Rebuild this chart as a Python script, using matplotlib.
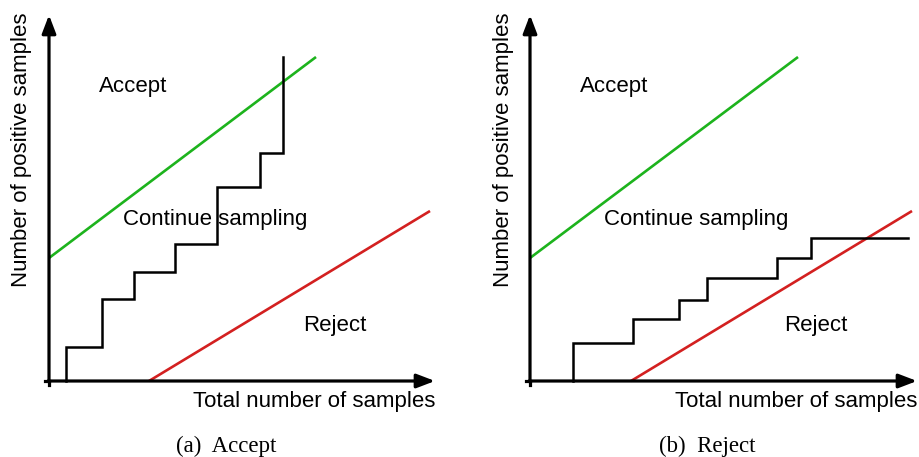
import matplotlib.pyplot as plt

# panel (a): accept case
acc_green_x = [0, 267]
acc_green_y = [123, 324]
acc_red_x = [100, 381]
acc_red_y = [0, 170]
acc_step_x = [17, 17, 53, 53, 85, 85, 126, 126, 168, 168, 211, 211, 234, 234]
acc_step_y = [0, 34, 34, 82, 82, 109, 109, 137, 137, 194, 194, 228, 228, 324]

# panel (b): reject case
rej_green_x = [0, 268]
rej_green_y = [123, 324]
rej_red_x = [101, 382]
rej_red_y = [0, 170]
rej_step_x = [43, 43, 103, 103, 149, 149, 177, 177, 247, 247, 281, 281, 378]
rej_step_y = [0, 38, 38, 62, 62, 81, 81, 103, 103, 123, 123, 143, 143]

captions = ['(a)  Accept', '(b)  Reject']

GREEN = '#1db31d'
RED = '#d32020'
SANS = 'Liberation Sans'
SERIF = 'Liberation Serif'

W, H = 920, 457
fig = plt.figure(figsize=(W / 100, H / 100), dpi=100)


def draw_panel(ox, x_end, gx, gy, rx, ry, sx, sy, caption):
    # axes placed so that one data unit is one pixel, origin at (ox, 381)
    x0, x1, y0, y1 = -8, x_end + 4, -8, 370
    ax = fig.add_axes([(ox + x0) / W, (H - 381 + y0) / H,
                       (x1 - x0) / W, (y1 - y0) / H])
    ax.set_xlim(x0, x1)
    ax.set_ylim(y0, y1)
    ax.axis('off')

    ax.plot(gx, gy, color=GREEN, lw=1.9, solid_capstyle='butt')
    ax.plot(rx, ry, color=RED, lw=1.9, solid_capstyle='butt')
    ax.plot(sx, sy, color='black', lw=1.8, solid_joinstyle='miter')

    # axes with arrow heads
    ax.plot([-4, 0], [0, 0], color='black', lw=2.3)
    ax.plot([0, 0], [-4, 0], color='black', lw=2.3)
    style = '-|>,head_length=1.1,head_width=0.42'
    ax.annotate('', xy=(x_end, 0), xytext=(-1, 0),
                arrowprops=dict(arrowstyle=style, lw=2.3, color='black',
                                shrinkA=0, shrinkB=0))
    ax.annotate('', xy=(0, 366), xytext=(0, -1),
                arrowprops=dict(arrowstyle=style, lw=2.3, color='black',
                                shrinkA=0, shrinkB=0))

    fs = 16
    ax.text(84, 295, 'Accept', family=SANS, fontsize=fs, ha='center', va='center')
    ax.text(166, 162, 'Continue sampling', family=SANS, fontsize=fs,
            ha='center', va='center')
    ax.text(286, 55, 'Reject', family=SANS, fontsize=fs, ha='center', va='center')
    ax.text(x_end, -20, 'Total number of samples', family=SANS, fontsize=fs,
            ha='right', va='center')
    ax.text(-27, 231, 'Number of positive samples', family=SANS, fontsize=fs,
            ha='center', va='center', rotation=90)
    ax.text(177, -65, caption, family=SERIF, fontsize=16.5, ha='center', va='center')


draw_panel(49, 386, acc_green_x, acc_green_y, acc_red_x, acc_red_y,
           acc_step_x, acc_step_y, captions[0])
draw_panel(530, 387, rej_green_x, rej_green_y, rej_red_x, rej_red_y,
           rej_step_x, rej_step_y, captions[1])

fig.savefig('out.png', dpi=100)
